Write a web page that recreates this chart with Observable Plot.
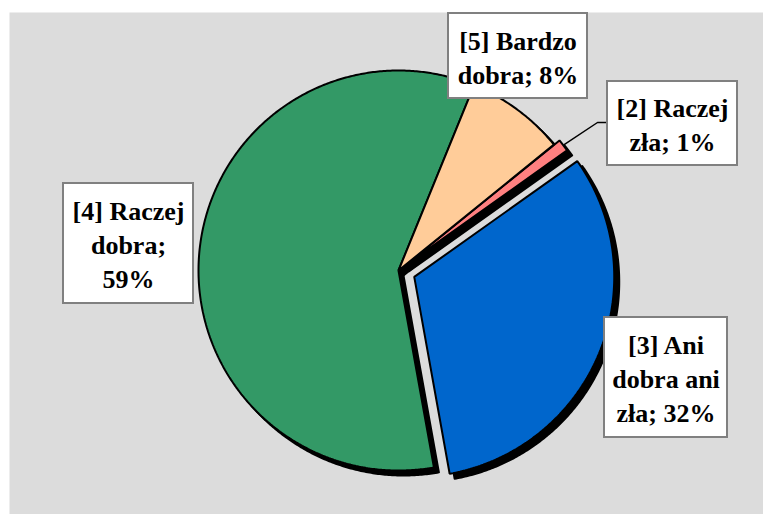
<!DOCTYPE html>
<html>
<head>
<meta charset="utf-8">
<script src="https://cdn.jsdelivr.net/npm/d3@7"></script>
<script src="https://cdn.jsdelivr.net/npm/@observablehq/plot@0.6"></script>
<style>
  html, body { margin: 0; padding: 0; background: #ffffff; }
  #chart svg { display: block; }
</style>
</head>
<body>
<div id="chart"></div>
<script>
// ---- data ----
const categories = ["[2] Raczej zła", "[3] Ani dobra ani zła", "[4] Raczej dobra", "[5] Bardzo dobra"];
const values = [1, 32, 59, 8];            // percent
const colors = ["#ff8080", "#0066cc", "#339966", "#ffcc99"];
const lineWords = [[2, 2], [2, 2, 2], [2, 1, 1], [2, 2]]; // words per label line

// ---- layout ----
const W = 763, H = 514;
const cx = 398, cy = 270, R = 200;        // pie centre / radius (px)
const startDeg = 51;                       // angle of first slice (clockwise from 12 o'clock)
const explode = [7, 17, 0, 0];
const shadow = {dx: 5, dy: 5};
const boxLayout = [
  {x1: 607, x2: 737, y1: 81,  y2: 165},
  {x1: 604, x2: 727, y1: 317, y2: 437},
  {x1: 63,  x2: 193, y1: 183, y2: 303},
  {x1: 448, x2: 587, y1: 13,  y2: 98}
];

// ---- build slices ----
const total = d3.sum(values);
let acc = startDeg;
const slices = values.map((v, i) => {
  const a0 = acc, a1 = acc + v / total * 360;
  acc = a1;
  const mid = (a0 + a1) / 2 * Math.PI / 180;
  const ox = explode[i] * Math.sin(mid), oy = -explode[i] * Math.cos(mid);
  const pts = [{x: cx + ox, y: cy + oy}];
  const n = Math.max(2, Math.ceil((a1 - a0) / 0.5));
  for (let k = 0; k <= n; k++) {
    const t = (a0 + (a1 - a0) * k / n) * Math.PI / 180;
    pts.push({x: cx + ox + R * Math.sin(t), y: cy + oy - R * Math.cos(t)});
  }
  return {i, a0, a1, mid, ox, oy, pts};
});

function labelText(i) {
  const words = `${categories[i]}; ${values[i]}%`.split(" ");
  const lines = [];
  let p = 0;
  for (const n of lineWords[i]) { lines.push(words.slice(p, p + n).join(" ")); p += n; }
  return lines.join("\n");
}
const labels = boxLayout.map((b, i) => ({...b, cxm: (b.x1 + b.x2) / 2, cym: (b.y1 + b.y2) / 2, text: labelText(i)}));

// leader line for the 1% slice
const s0 = slices[0];
const lp0 = {x: cx + s0.ox + (R + 1) * Math.sin(s0.mid), y: cy + s0.oy - (R + 1) * Math.cos(s0.mid)};
const leader = [lp0, {x: labels[0].x1 - 10, y: labels[0].cym - 1}, {x: labels[0].x1, y: labels[0].cym - 1}];

const marks = [
  Plot.frame({fill: "#dcdcdc", stroke: "none", insetLeft: 9, insetTop: 12})
];
for (const s of slices) {
  marks.push(Plot.line(s.pts, {x: "x", y: "y", curve: "linear-closed", fill: "black", stroke: "black", strokeWidth: 2, dx: shadow.dx, dy: shadow.dy}));
}
for (const s of slices) {
  marks.push(Plot.line(s.pts, {x: "x", y: "y", curve: "linear-closed", fill: colors[s.i], stroke: "black", strokeWidth: 2, strokeLinejoin: "miter"}));
}
marks.push(Plot.line(leader, {x: "x", y: "y", stroke: "black", strokeWidth: 1.5}));
marks.push(Plot.rect(labels, {x1: "x1", x2: "x2", y1: "y1", y2: "y2", fill: "white", stroke: "#808080", strokeWidth: 2}));
marks.push(Plot.text(labels, {
  x: "cxm", y: "cym", text: "text",
  fontSize: 26, fontWeight: "bold", fontFamily: "Liberation Serif",
  lineHeight: 1.31, fill: "black", textAnchor: "middle"
}));

const chart = Plot.plot({
  width: W, height: H,
  marginLeft: 0, marginRight: 0, marginTop: 0, marginBottom: 0,
  x: {domain: [0, W], range: [0, W], axis: null},
  y: {domain: [0, H], range: [0, H], axis: null},
  style: {background: "#ffffff"},
  marks
});
document.getElementById("chart").appendChild(chart);
</script>
</body>
</html>
